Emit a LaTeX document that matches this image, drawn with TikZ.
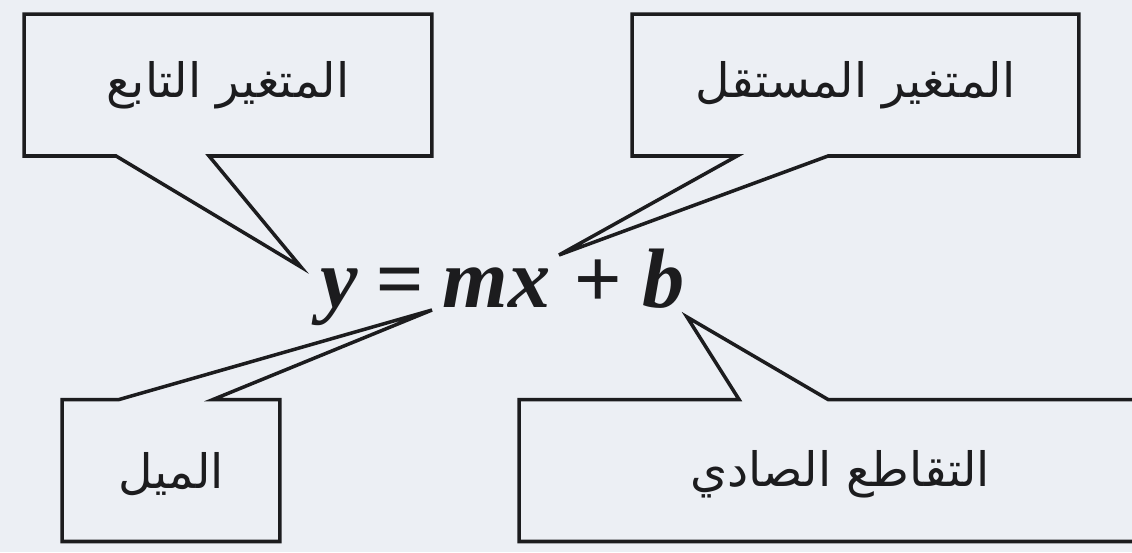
\documentclass[tikz,border=0pt]{standalone}
\usepackage{fontspec}
\setmainfont{Liberation Serif}
\newfontfamily\arabicfont[Script=Arabic]{DejaVu Sans}
\TeXXeTstate=1
\definecolor{paper}{RGB}{236,239,244}
\definecolor{ink}{RGB}{28,28,30}
\usetikzlibrary{calc}

\begin{document}
\begin{tikzpicture}[x=0.02cm, y=-0.02cm,
  callout/.style={inner sep=0pt, outer sep=0pt, minimum height=2.84cm,
                  font=\arabicfont\fontsize{27}{32}\selectfont, text=ink},
  eqn/.style={inner sep=0pt, font=\fontsize{48}{54}\selectfont\bfseries\itshape, text=ink},
  edge/.style={draw=ink, line width=2pt, line join=miter},
]
  \clip (0,0) rectangle (1132,552);
  \fill[paper] (0,0) rectangle (1132,552);

  % Equation
  \node[eqn, anchor=base west] (eq) at (320,307)
    {y\hspace{10pt}=\hspace{11pt}mx\hspace{13pt}+\hspace{12pt}b};

  % Tail tips
  \coordinate (tip1) at (301,267);
  \coordinate (tip2) at (559,255);
  \coordinate (tip3) at (432,310);
  \coordinate (tip4) at (687,317);

  % Callouts
  \node[callout, minimum width=8.16cm] (dep) at (228,85) {\beginR المتغير التابع\endR};
  \node[callout, minimum width=8.94cm] (ind) at (855.5,85) {\beginR المتغير المستقل\endR};
  \node[callout, minimum width=4.36cm] (slope) at (171,474) {\beginR الميل\endR};
  \node[callout, minimum width=12.84cm] (icept) at (840,474) {\beginR التقاطع الصادي\endR};

  % Outlines with tails
  \draw[edge] (dep.south west) -- (dep.north west) -- (dep.north east) -- (dep.south east)
    -- ($(dep.south west)+(185,0)$) -- (tip1) -- ($(dep.south west)+(92,0)$) -- cycle;
  \draw[edge] (ind.south west) -- (ind.north west) -- (ind.north east) -- (ind.south east)
    -- ($(ind.south west)+(196,0)$) -- (tip2) -- ($(ind.south west)+(105,0)$) -- cycle;
  \draw[edge] ($(slope.north west)+(0,-3.5)$) -- ($(slope.north west)+(57,-3.5)$) -- (tip3)
    -- ($(slope.north west)+(151,-3.5)$) -- ($(slope.north east)+(0,-3.5)$)
    -- ($(slope.south east)+(0,-3.5)$) -- ($(slope.south west)+(0,-3.5)$) -- cycle;
  \draw[edge] ($(icept.north west)+(0,-3.5)$) -- ($(icept.north west)+(220,-3.5)$) -- (tip4)
    -- ($(icept.north west)+(309,-3.5)$) -- ($(icept.north east)+(0,-3.5)$)
    -- ($(icept.south east)+(0,-3.5)$) -- ($(icept.south west)+(0,-3.5)$) -- cycle;
\end{tikzpicture}
\end{document}
